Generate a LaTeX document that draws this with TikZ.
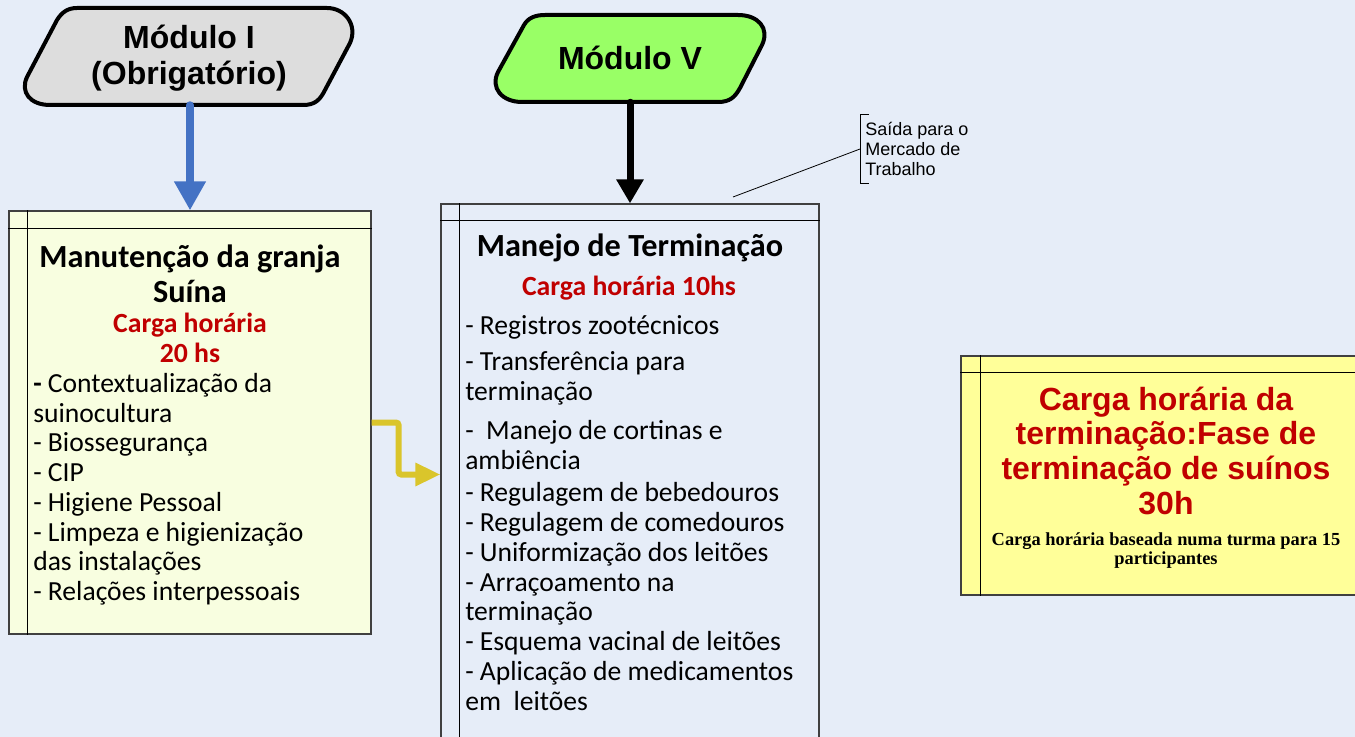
\documentclass[tikz,border=0pt]{standalone}
\usepackage{fontspec}
\setmainfont{Carlito}
\newfontfamily\arialf{Liberation Sans}
\newfontfamily\timesf{Liberation Serif}
\newfontfamily\calf{Carlito}
\usetikzlibrary{arrows.meta,calc}
\definecolor{bg}{HTML}{E6EDF8}
\definecolor{boxA}{HTML}{F8FEE0}
\definecolor{boxC}{HTML}{FFFF99}
\definecolor{modIfill}{HTML}{DDDDDD}
\definecolor{modVfill}{HTML}{99FF66}
\definecolor{redt}{HTML}{C00000}
\definecolor{bluear}{HTML}{4472C4}
\definecolor{yellowar}{HTML}{DAC52B}
\definecolor{boxline}{HTML}{404040}
\begin{document}
\begin{tikzpicture}[x=0.75pt,y=-0.75pt,
  modshape/.style={draw=black, line width=3pt, line join=round},
  modlabel/.style={font=\arialf\bfseries\fontsize{24}{27}\selectfont, align=center, inner sep=0pt, anchor=base},
  hidden/.style={draw=none, inner sep=0pt},
  panel/.style={draw=boxline, line width=0.9pt, inner sep=0pt},
  panelline/.style={draw=black, line width=0.9pt},
  paneltitle/.style={font=\calf\bfseries\fontsize{24.2}{26.25}\selectfont, align=center, inner sep=0pt, anchor=base},
  panelred/.style={font=\calf\bfseries\fontsize{20.8}{22.5}\selectfont, text=redt, align=center, inner sep=0pt, anchor=base},
  panellist/.style={font=\calf\fontsize{20.7}{22.3}\selectfont, align=left, inner sep=0pt, anchor=base west},
  flowarrow/.style={line cap=round}
]
\useasboundingbox (0,0) rectangle (1355,737);
\fill[bg] (0,0) rectangle (1355,737);

% module shapes
\draw[modshape, fill=modIfill] (77,8) -- (327,8) .. controls (345,8) and (358,25) .. (350,43) -- (325,90) .. controls (320,100) and (315,105) .. (303,105) -- (50,105) .. controls (30,105) and (20,92) .. (27,77) -- (57,20) .. controls (62,12) and (68,8) .. (77,8) -- cycle;
\draw[modshape, fill=modVfill] (545,15) -- (738,15) .. controls (758,15) and (770,28) .. (762,45) -- (740,88) .. controls (735,97) and (730,102) .. (718,102) -- (522,102) .. controls (502,102) and (490,88) .. (498,72) -- (524,25) .. controls (528,18) and (535,15) .. (545,15) -- cycle;
\node[hidden, minimum width=300*0.75pt, minimum height=97*0.75pt] (modI) at (190,56.5) {};
\node[hidden, minimum width=240*0.75pt, minimum height=87*0.75pt] (modV) at (630,58.5) {};
\node[modlabel] (modIt) at (189,84.5) {Módulo I\\(Obrigatório)};
\node[modlabel] (modVt) at (630,70) {Módulo V};

% panels
\node[panel, fill=boxA, minimum width=362*0.75pt, minimum height=423*0.75pt] (b1) at (190,422.5) {};
\draw[panelline] ($(b1.north west)+(19,0)$) -- ($(b1.south west)+(19,0)$);
\draw[panelline] ($(b1.north west)+(0,18)$) -- ($(b1.north east)+(0,18)$);

\node[panel, fill=bg, minimum width=378*0.75pt, minimum height=541*0.75pt] (b2) at (630,474.5) {};
\draw[panelline] ($(b2.north west)+(19,0)$) -- ($(b2.south west)+(19,0)$);
\draw[panelline] ($(b2.north west)+(0,17)$) -- ($(b2.north east)+(0,17)$);

\node[panel, fill=boxC, minimum width=399*0.75pt, minimum height=239*0.75pt] (b3) at (1160.5,475.5) {};
\draw[panelline] ($(b3.north west)+(20,0)$) -- ($(b3.south west)+(20,0)$);
\draw[panelline] ($(b3.north west)+(0,17)$) -- ($(b3.north east)+(0,17)$);

% panel 1 text (anchors on the last baseline)
\node[paneltitle] (t1) at (190,303) {Manutenção da granja\\Suína};
\node[panelred] (r1) at (190,363) {Carga horária\\20 hs};
\node[panellist] (l1) at (33,600.5) {{\bfseries -} Contextualização da\\suinocultura\\- Biossegurança\\- CIP\\- Higiene Pessoal\\- Limpeza e higienização\\das instalações\\- Relações interpessoais};

% panel 2 text
\node[paneltitle] (t2) at (630,257) {Manejo de Terminação};
\node[panelred] (r2) at (629,296) {Carga horária 10hs};
\node[panellist] (l2) at (465,710) {- Registros zootécnicos\\[5.25pt]- Transferência para\\terminação\\[6.75pt]-\ \ Manejo de cortinas e\\ambiência\\[2.25pt]- Regulagem de bebedouros\\- Regulagem de comedouros\\- Uniformização dos leitões\\- Arraçoamento na\\terminação\\- Esquema vacinal de leitões\\- Aplicação de medicamentos\\em\ \ leitões};

% panel 3 text
\node[font=\arialf\bfseries\fontsize{24}{26}\selectfont, text=redt, align=center, inner sep=0pt, anchor=base] (t3) at (1166,514) {Carga horária da\\terminação:Fase de\\terminação de suínos\\30h};
\node[font=\timesf\bfseries\fontsize{13.8}{14.25}\selectfont, align=center, inner sep=0pt, anchor=base] (s3) at (1166,564) {Carga horária baseada numa turma para 15\\participantes};

% annotation
\node[font=\arialf\fontsize{13.5}{15}\selectfont, align=left, anchor=west, inner xsep=5*0.75pt, inner ysep=0pt, minimum height=68*0.75pt] (note) at (860,149) {Saída para o\\Mercado de\\Trabalho};
\draw[line width=0.6pt] ($(note.north west)+(9,0)$) -- (note.north west) -- (note.south west) -- ++(9,0);
\coordinate (leadend) at (733,197);
\draw[line width=0.6pt] (leadend) -- (note.west);

% connectors
\draw[flowarrow, draw=bluear, line width=6pt, -{Triangle[length=29*0.75pt, width=30*0.75pt]}] (modI.south) -- (b1.north);
\draw[flowarrow, draw=black, line width=5.25pt, -{Triangle[length=24*0.75pt, width=26*0.75pt]}] (modV.south) -- (b2.north);
\draw[draw=yellowar, line width=4.5pt, rounded corners=2pt, -{Triangle[length=25*0.75pt, width=22*0.75pt]}] (b1.east) -- ++(27,0) |- (b2.west);
\end{tikzpicture}
\end{document}
